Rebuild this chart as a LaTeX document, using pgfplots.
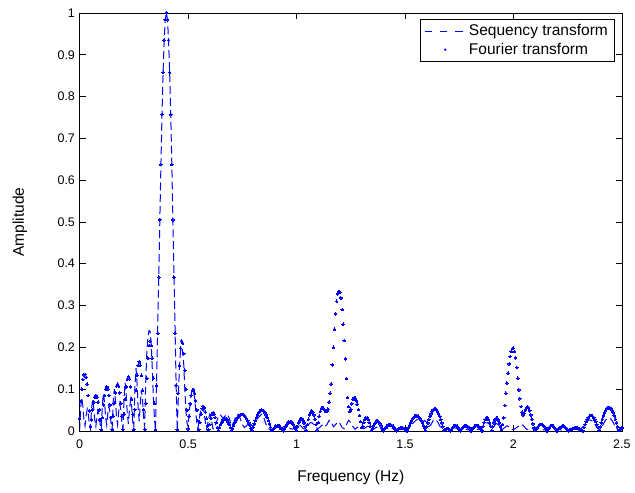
\documentclass[border=0pt]{standalone}
\usepackage{fontspec}
\setmainfont{Liberation Sans}
\usepackage{pgfplots}
\pgfplotsset{compat=1.18}
\definecolor{mblue}{RGB}{0,0,255}
\begin{document}
\begin{tikzpicture}
\begin{axis}[
    width=408.75pt, height=315pt, scale only axis,
    xmin=0, xmax=2.5, ymin=0, ymax=1,
    xtick={0,0.5,1,1.5,2,2.5},
    ytick={0,0.1,0.2,0.3,0.4,0.5,0.6,0.7,0.8,0.9,1},
    tick align=inside,
    major tick length=4.5pt,
    tick style={black, line width=0.5pt},
    axis line style={line width=0.5pt},
    /pgf/number format/assume math mode=true,
    tick label style={font=\fontsize{9.4}{11}\selectfont},
    xticklabel style={yshift=-3pt},
    xlabel={Frequency (Hz)},
    ylabel={Amplitude},
    label style={font=\fontsize{11.7}{14}\selectfont},
    xlabel style={at={(axis description cs:0.5,-0.112)}, anchor=center},
    ylabel style={at={(axis description cs:-0.110,0.5)}, anchor=center},
    legend style={at={(axis description cs:0.987,0.9857)}, anchor=north east,
        font=\fontsize{11.7}{14}\selectfont, line width=0.5pt,
        cells={anchor=west}},
]
% sequency transform (dashed)
\addplot[color=mblue, draw=mblue, line width=0.75pt, dash pattern=on 6pt off 3pt,
    legend image code/.code={\draw[draw=mblue, line width=0.75pt, dash pattern=on 5.5pt off 6pt] (0pt,0pt) -- (31pt,0pt);}]
coordinates {
(0.000,0.000)(0.005,0.056)(0.010,0.080)(0.015,0.060)(0.020,0.028)(0.025,0.012)(0.030,0.036)(0.035,0.052)(0.040,0.040)(0.045,0.016)
(0.050,0.005)(0.055,0.053)(0.060,0.075)(0.065,0.056)(0.070,0.026)(0.075,0.011)(0.080,0.034)(0.085,0.049)(0.090,0.038)(0.095,0.015)
(0.100,0.005)(0.105,0.063)(0.110,0.090)(0.115,0.068)(0.120,0.032)(0.125,0.014)(0.130,0.041)(0.135,0.059)(0.140,0.045)(0.145,0.018)
(0.150,0.005)(0.155,0.070)(0.160,0.100)(0.165,0.075)(0.170,0.035)(0.175,0.015)(0.180,0.045)(0.185,0.065)(0.190,0.050)(0.195,0.020)
(0.200,0.005)(0.205,0.080)(0.210,0.115)(0.215,0.086)(0.220,0.040)(0.225,0.017)(0.230,0.052)(0.235,0.075)(0.240,0.058)(0.245,0.023)
(0.250,0.005)(0.255,0.105)(0.260,0.150)(0.265,0.113)(0.270,0.053)(0.275,0.023)(0.280,0.068)(0.285,0.098)(0.290,0.075)(0.295,0.030)
(0.300,0.010)(0.305,0.120)(0.310,0.190)(0.315,0.225)(0.320,0.240)(0.325,0.238)(0.330,0.210)(0.335,0.150)(0.340,0.080)(0.345,0.030)
(0.350,0.000)(0.355,0.120)(0.360,0.245)(0.365,0.372)(0.370,0.508)(0.375,0.640)(0.380,0.760)(0.385,0.860)(0.390,0.936)(0.395,0.985)
(0.400,1.000)(0.405,0.985)(0.410,0.936)(0.415,0.860)(0.420,0.760)(0.425,0.640)(0.430,0.508)(0.435,0.372)(0.440,0.245)(0.445,0.110)
(0.450,0.000)(0.455,0.080)(0.460,0.150)(0.465,0.190)(0.470,0.200)(0.475,0.190)(0.480,0.160)(0.485,0.100)(0.490,0.050)(0.495,0.020)
(0.500,0.010)(0.505,0.040)(0.510,0.070)(0.515,0.090)(0.520,0.100)(0.525,0.095)(0.530,0.080)(0.535,0.050)(0.540,0.020)(0.545,0.005)
(0.550,0.020)(0.555,0.040)(0.560,0.055)(0.565,0.060)(0.570,0.055)(0.575,0.040)(0.580,0.020)(0.585,0.005)(0.590,0.015)(0.595,0.030)
(0.600,0.040)(0.605,0.035)(0.610,0.020)(0.615,0.005)
(0.62,0.005)(0.63,0.020)(0.64,0.035)(0.65,0.038)(0.66,0.030)(0.67,0.035)(0.68,0.040)(0.69,0.030)(0.70,0.012)(0.71,0.020)
(0.72,0.035)(0.73,0.040)(0.74,0.030)(0.75,0.015)(0.76,0.008)(0.77,0.012)(0.78,0.020)(0.79,0.015)(0.80,0.010)(0.81,0.020)
(0.82,0.030)(0.83,0.035)(0.84,0.040)(0.85,0.030)(0.86,0.015)(0.87,0.005)(0.88,0.003)(0.89,0.005)(0.90,0.008)(0.91,0.005)
(0.92,0.003)(0.93,0.006)(0.94,0.010)(0.95,0.012)(0.96,0.010)(0.97,0.006)(0.98,0.004)(0.99,0.006)(1.00,0.010)(1.01,0.015)
(1.02,0.012)(1.03,0.006)(1.04,0.004)(1.05,0.010)(1.06,0.018)(1.07,0.020)(1.08,0.015)(1.09,0.008)(1.10,0.005)(1.11,0.010)
(1.12,0.015)(1.13,0.010)(1.14,0.015)(1.15,0.025)(1.16,0.022)(1.17,0.010)(1.18,0.015)(1.19,0.022)(1.20,0.018)(1.21,0.008)
(1.22,0.005)(1.23,0.015)(1.24,0.025)(1.25,0.020)(1.26,0.010)(1.27,0.004)(1.28,0.008)(1.29,0.012)(1.30,0.010)(1.31,0.005)
(1.32,0.008)(1.33,0.012)(1.34,0.008)(1.35,0.003)(1.36,0.006)(1.37,0.009)(1.38,0.006)(1.39,0.003)(1.40,0.005)(1.41,0.008)
(1.42,0.006)(1.43,0.003)(1.44,0.005)(1.45,0.007)(1.46,0.004)(1.47,0.002)(1.48,0.004)(1.49,0.006)(1.50,0.003)(1.51,0.006)
(1.52,0.010)(1.53,0.015)(1.54,0.020)(1.55,0.025)(1.56,0.028)(1.57,0.025)(1.58,0.020)(1.59,0.025)(1.60,0.020)(1.61,0.010)
(1.62,0.015)(1.63,0.025)(1.64,0.028)(1.65,0.022)(1.66,0.012)(1.67,0.004)(1.68,0.003)(1.69,0.005)(1.70,0.004)(1.71,0.002)
(1.72,0.005)(1.73,0.007)(1.74,0.005)(1.75,0.002)(1.76,0.004)(1.77,0.006)(1.78,0.004)(1.79,0.002)(1.80,0.004)(1.81,0.006)
(1.82,0.005)(1.83,0.003)(1.84,0.004)(1.85,0.005)(1.86,0.008)(1.87,0.015)(1.88,0.020)(1.89,0.015)(1.90,0.006)(1.91,0.010)
(1.92,0.018)(1.93,0.015)(1.94,0.008)(1.95,0.004)(1.96,0.008)(1.97,0.012)(1.98,0.010)(1.99,0.004)(2.00,0.003)(2.01,0.006)
(2.02,0.010)(2.03,0.012)(2.04,0.015)(2.05,0.010)(2.06,0.004)(2.07,0.003)(2.08,0.006)(2.09,0.005)(2.10,0.002)(2.11,0.004)
(2.12,0.006)(2.13,0.004)(2.14,0.002)(2.15,0.004)(2.16,0.006)(2.17,0.004)(2.18,0.002)(2.19,0.003)(2.20,0.005)(2.21,0.004)
(2.22,0.002)(2.23,0.003)(2.24,0.005)(2.25,0.003)(2.26,0.002)(2.27,0.003)(2.28,0.004)(2.29,0.003)(2.30,0.002)(2.31,0.005)
(2.32,0.010)(2.33,0.018)(2.34,0.024)(2.35,0.026)(2.36,0.025)(2.37,0.020)(2.38,0.012)(2.39,0.005)(2.40,0.004)(2.41,0.012)
(2.42,0.022)(2.43,0.029)(2.44,0.031)(2.45,0.028)(2.46,0.020)(2.47,0.010)(2.48,0.003)(2.49,0.002)(2.50,0.002)
};
\addlegendentry{Sequency transform}
% fourier transform (dots)
\addplot[color=mblue, only marks, mark=*, mark size=1pt, mark options={solid, fill=mblue, draw=mblue, line width=0pt},
    legend image code/.code={\path[draw=none, fill=none] (0pt,0pt) -- (31pt,0pt); \path[draw=none, fill=mblue] (15.5pt,0pt) circle (1pt);}]
coordinates {
(0.000,0.030)(0.005,0.070)(0.010,0.100)(0.015,0.123)(0.020,0.134)(0.025,0.135)(0.030,0.128)(0.035,0.112)(0.040,0.085)(0.045,0.048)
(0.050,0.010)(0.055,0.026)(0.060,0.050)(0.065,0.069)(0.070,0.081)(0.075,0.085)(0.080,0.081)(0.085,0.069)(0.090,0.050)(0.095,0.026)
(0.100,0.003)(0.105,0.032)(0.110,0.062)(0.115,0.085)(0.120,0.100)(0.125,0.105)(0.130,0.100)(0.135,0.085)(0.140,0.062)(0.145,0.032)
(0.150,0.003)(0.155,0.035)(0.160,0.066)(0.165,0.091)(0.170,0.107)(0.175,0.112)(0.180,0.107)(0.185,0.091)(0.190,0.066)(0.195,0.035)
(0.200,0.003)(0.205,0.040)(0.210,0.076)(0.215,0.105)(0.220,0.124)(0.225,0.130)(0.230,0.124)(0.235,0.105)(0.240,0.076)(0.245,0.040)
(0.250,0.003)(0.255,0.051)(0.260,0.097)(0.265,0.133)(0.270,0.157)(0.275,0.165)(0.280,0.157)(0.285,0.133)(0.290,0.097)(0.295,0.051)
(0.300,0.004)(0.305,0.066)(0.310,0.126)(0.315,0.174)(0.320,0.204)(0.325,0.215)(0.330,0.204)(0.335,0.174)(0.340,0.126)(0.345,0.066)
(0.350,0.003)(0.355,0.109)(0.360,0.234)(0.365,0.368)(0.370,0.505)(0.375,0.637)(0.380,0.757)(0.385,0.858)(0.390,0.935)(0.395,0.984)
(0.400,1.000)(0.405,0.984)(0.410,0.935)(0.415,0.858)(0.420,0.757)(0.425,0.637)(0.430,0.505)(0.435,0.368)(0.440,0.234)(0.445,0.109)
(0.450,0.003)(0.455,0.090)(0.460,0.156)(0.465,0.198)(0.470,0.215)(0.475,0.210)(0.480,0.185)(0.485,0.145)(0.490,0.100)(0.495,0.050)
(0.500,0.005)(0.505,0.035)(0.510,0.065)(0.515,0.085)(0.520,0.097)(0.525,0.098)(0.530,0.090)(0.535,0.072)(0.540,0.050)(0.545,0.025)
(0.550,0.003)(0.555,0.020)(0.560,0.040)(0.565,0.053)(0.570,0.058)(0.575,0.055)(0.580,0.045)(0.585,0.030)(0.590,0.012)(0.595,0.003)
(0.600,0.015)(0.605,0.030)(0.610,0.040)(0.615,0.043)(0.620,0.040)(0.625,0.032)(0.630,0.020)(0.635,0.008)(0.640,0.002)(0.645,0.008)
(0.650,0.015)(0.655,0.021)(0.660,0.026)(0.665,0.029)(0.670,0.030)(0.675,0.029)(0.680,0.026)(0.685,0.021)(0.690,0.015)(0.695,0.008)
(0.700,0.001)(0.705,0.006)(0.710,0.013)(0.715,0.019)(0.720,0.024)(0.725,0.029)(0.730,0.033)(0.735,0.036)(0.740,0.038)(0.745,0.039)
(0.750,0.039)(0.755,0.038)(0.760,0.036)(0.765,0.033)(0.770,0.029)(0.775,0.024)(0.780,0.019)(0.785,0.013)(0.790,0.006)(0.795,0.001)
(0.800,0.009)(0.805,0.017)(0.810,0.025)(0.815,0.032)(0.820,0.038)(0.825,0.043)(0.830,0.047)(0.835,0.049)(0.840,0.050)(0.845,0.049)
(0.850,0.047)(0.855,0.043)(0.860,0.038)(0.865,0.032)(0.870,0.025)(0.875,0.017)(0.880,0.009)(0.885,0.001)(0.890,0.003)(0.895,0.006)
(0.900,0.009)(0.905,0.011)(0.910,0.012)(0.915,0.012)(0.920,0.011)(0.925,0.009)(0.930,0.006)(0.935,0.003)(0.940,0.000)(0.945,0.006)
(0.950,0.011)(0.955,0.016)(0.960,0.019)(0.965,0.021)(0.970,0.022)(0.975,0.021)(0.980,0.019)(0.985,0.016)(0.990,0.011)(0.995,0.006)
(1.000,0.001)(1.005,0.010)(1.010,0.019)(1.015,0.025)(1.020,0.029)(1.025,0.029)(1.030,0.025)(1.035,0.019)(1.040,0.010)(1.045,0.001)
(1.050,0.015)(1.055,0.028)(1.060,0.038)(1.065,0.045)(1.070,0.047)(1.075,0.045)(1.080,0.038)(1.085,0.028)(1.090,0.015)(1.095,0.002)
(1.100,0.020)(1.105,0.035)(1.110,0.047)(1.115,0.054)(1.120,0.056)(1.125,0.054)(1.130,0.050)(1.135,0.046)(1.140,0.046)(1.145,0.052)
(1.150,0.069)(1.155,0.090)(1.160,0.112)(1.165,0.158)(1.170,0.200)(1.175,0.243)(1.180,0.280)(1.185,0.310)(1.190,0.328)(1.195,0.333)
(1.200,0.332)(1.205,0.318)(1.210,0.290)(1.215,0.255)(1.220,0.216)(1.225,0.172)(1.230,0.125)(1.235,0.080)(1.240,0.058)(1.245,0.046)
(1.250,0.052)(1.255,0.065)(1.260,0.075)(1.265,0.079)(1.270,0.078)(1.275,0.072)(1.280,0.064)(1.285,0.051)(1.290,0.037)(1.295,0.022)
(1.300,0.008)(1.305,0.011)(1.310,0.020)(1.315,0.027)(1.320,0.031)(1.325,0.031)(1.330,0.027)(1.335,0.020)(1.340,0.011)(1.345,0.001)
(1.350,0.006)(1.355,0.012)(1.360,0.017)(1.365,0.021)(1.370,0.023)(1.375,0.023)(1.380,0.021)(1.385,0.017)(1.390,0.012)(1.395,0.006)
(1.400,0.000)(1.405,0.004)(1.410,0.008)(1.415,0.011)(1.420,0.013)(1.425,0.014)(1.430,0.015)(1.435,0.014)(1.440,0.013)(1.445,0.011)
(1.450,0.008)(1.455,0.004)(1.460,0.000)(1.465,0.002)(1.470,0.004)(1.475,0.006)(1.480,0.007)(1.485,0.007)(1.490,0.007)(1.495,0.006)
(1.500,0.004)(1.505,0.002)(1.510,0.000)(1.515,0.007)(1.520,0.013)(1.525,0.019)(1.530,0.024)(1.535,0.029)(1.540,0.032)(1.545,0.035)
(1.550,0.036)(1.555,0.036)(1.560,0.035)(1.565,0.032)(1.570,0.029)(1.575,0.024)(1.580,0.019)(1.585,0.013)(1.590,0.007)(1.595,0.001)
(1.600,0.010)(1.605,0.019)(1.610,0.027)(1.615,0.035)(1.620,0.041)(1.625,0.047)(1.630,0.050)(1.635,0.052)(1.640,0.052)(1.645,0.050)
(1.650,0.047)(1.655,0.041)(1.660,0.035)(1.665,0.027)(1.670,0.019)(1.675,0.010)(1.680,0.001)(1.685,0.003)(1.690,0.005)(1.695,0.006)
(1.700,0.005)(1.705,0.003)(1.710,0.000)(1.715,0.004)(1.720,0.008)(1.725,0.011)(1.730,0.013)(1.735,0.013)(1.740,0.011)(1.745,0.008)
(1.750,0.004)(1.755,0.000)(1.760,0.004)(1.765,0.007)(1.770,0.010)(1.775,0.011)(1.780,0.012)(1.785,0.011)(1.790,0.010)(1.795,0.007)
(1.800,0.004)(1.805,0.000)(1.810,0.004)(1.815,0.008)(1.820,0.011)(1.825,0.012)(1.830,0.013)(1.835,0.012)(1.840,0.011)(1.845,0.008)
(1.850,0.004)(1.855,0.000)(1.860,0.011)(1.865,0.020)(1.870,0.027)(1.875,0.031)(1.880,0.031)(1.885,0.027)(1.890,0.020)(1.895,0.011)
(1.900,0.001)(1.905,0.010)(1.910,0.019)(1.915,0.026)(1.920,0.030)(1.925,0.030)(1.930,0.026)(1.935,0.019)(1.940,0.010)(1.945,0.003)
(1.950,0.015)(1.955,0.031)(1.960,0.061)(1.965,0.090)(1.970,0.114)(1.975,0.138)(1.980,0.160)(1.985,0.178)(1.990,0.190)(1.995,0.197)
(2.000,0.198)(2.005,0.190)(2.010,0.175)(2.015,0.152)(2.020,0.126)(2.025,0.098)(2.030,0.077)(2.035,0.058)(2.040,0.045)(2.045,0.038)
(2.050,0.042)(2.055,0.050)(2.060,0.055)(2.065,0.057)(2.070,0.055)(2.075,0.048)(2.080,0.038)(2.085,0.028)(2.090,0.017)(2.095,0.007)
(2.100,0.002)(2.105,0.004)(2.110,0.008)(2.115,0.011)(2.120,0.014)(2.125,0.015)(2.130,0.015)(2.135,0.014)(2.140,0.011)(2.145,0.008)
(2.150,0.004)(2.155,0.000)(2.160,0.004)(2.165,0.008)(2.170,0.011)(2.175,0.013)(2.180,0.013)(2.185,0.011)(2.190,0.008)(2.195,0.004)
(2.200,0.000)(2.205,0.003)(2.210,0.006)(2.215,0.008)(2.220,0.010)(2.225,0.011)(2.230,0.011)(2.235,0.010)(2.240,0.008)(2.245,0.006)
(2.250,0.003)(2.255,0.000)(2.260,0.002)(2.265,0.003)(2.270,0.005)(2.275,0.006)(2.280,0.007)(2.285,0.007)(2.290,0.007)(2.295,0.007)
(2.300,0.006)(2.305,0.005)(2.310,0.003)(2.315,0.002)(2.320,0.000)(2.325,0.008)(2.330,0.015)(2.335,0.022)(2.340,0.027)(2.345,0.032)
(2.350,0.035)(2.355,0.037)(2.360,0.037)(2.365,0.035)(2.370,0.032)(2.375,0.027)(2.380,0.022)(2.385,0.015)(2.390,0.008)(2.395,0.001)
(2.400,0.010)(2.405,0.019)(2.410,0.028)(2.415,0.036)(2.420,0.043)(2.425,0.048)(2.430,0.053)(2.435,0.055)(2.440,0.056)(2.445,0.055)
(2.450,0.053)(2.455,0.048)(2.460,0.043)(2.465,0.036)(2.470,0.028)(2.475,0.019)(2.480,0.010)(2.485,0.001)(2.490,0.004)(2.495,0.006)
(2.500,0.007)
};
\addlegendentry{Fourier transform}
\end{axis}
\path ([xshift=-60pt,yshift=-46.5pt]current axis.south west) rectangle ([xshift=7.5pt,yshift=9.75pt]current axis.north east);
\end{tikzpicture}
\end{document}
